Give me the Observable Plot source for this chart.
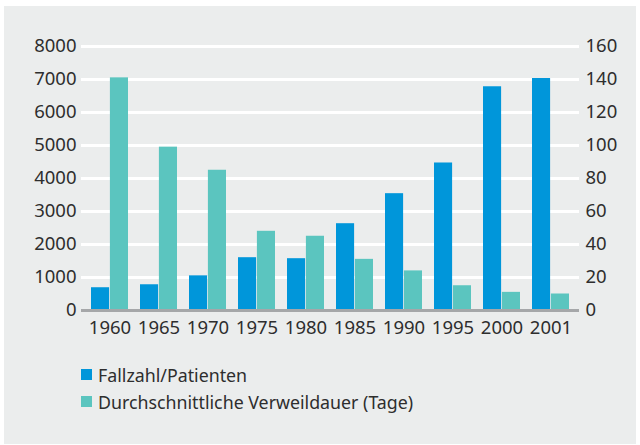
<!DOCTYPE html>
<html>
<head>
<meta charset="utf-8">
<script src="https://cdn.jsdelivr.net/npm/d3@7"></script>
<script src="https://cdn.jsdelivr.net/npm/@observablehq/plot@0.6"></script>
<style>
  html, body { margin: 0; padding: 0; background: #ffffff; }
  #box {
    position: absolute; left: 4px; top: 6px; width: 632px; height: 438px;
    background: #ebeded; font-family: "Noto Sans", sans-serif; color: #2e2e2e;
  }
  #chart svg { display: block; background: transparent; }
  .legend { position: absolute; left: 77px; top: 355px; font-size: 17.8px; }
  .row { display: flex; align-items: center; height: 27px; }
  .sw { width: 11px; height: 11px; margin-right: 6px; }
</style>
</head>
<body>
<div id="box">
  <div id="chart"></div>
  <div class="legend" id="legend"></div>
</div>
<script>
const years = ["1960","1965","1970","1975","1980","1985","1990","1995","2000","2001"];
const patients = [690, 780, 1050, 1600, 1570, 2630, 3540, 4470, 6780, 7030];
const days = [141, 99, 85, 48, 45, 31, 24, 15, 11, 10];
const leftTicks = [0,1000,2000,3000,4000,5000,6000,7000,8000];
const rightTicks = [0,20,40,60,80,100,120,140,160];
const seriesNames = ["Fallzahl/Patienten", "Durchschnittliche Verweildauer (Tage)"];
const colors = ["#0096da", "#5bc5bf"];

const ratio = 8000 / 160;
const data = years.map((y, i) => ({year: y, patients: patients[i], days: days[i]}));
const fs = 18.5;

const chart = Plot.plot({
  width: 632,
  height: 345,
  marginLeft: 77,
  marginRight: 57,
  marginTop: 40,
  marginBottom: 41,
  style: {fontFamily: "Noto Sans, sans-serif", fontSize: fs + "px", color: "#2e2e2e", background: "transparent"},
  x: {type: "band", domain: years, paddingInner: 0.24, paddingOuter: 0.12, label: null},
  y: {domain: [0, 8000], label: null},
  marks: [
    Plot.ruleY(leftTicks.slice(1), {stroke: "#ffffff", strokeWidth: 3}),
    Plot.barY(data, {x: "year", y: "patients", fill: colors[0], insetRight: 18.9}),
    Plot.barY(data, {x: "year", y: d => d.days * ratio, fill: colors[1], insetLeft: 18.9}),
    Plot.ruleY([0], {stroke: "#a5a7a9", strokeWidth: 3}),
    Plot.axisY({ticks: leftTicks, tickFormat: t => String(t), tickSize: 0, tickPadding: 5, fontSize: fs, label: null, anchor: "left"}),
    Plot.axisY({ticks: rightTicks.map(t => t * ratio), tickFormat: t => String(t / ratio), tickSize: 0, tickPadding: 6, fontSize: fs, label: null, anchor: "right"}),
    Plot.axisX({tickSize: 0, tickPadding: 10, fontSize: fs, label: null})
  ]
});
document.getElementById("chart").appendChild(chart);

const legend = document.getElementById("legend");
seriesNames.forEach((name, i) => {
  const row = document.createElement("div");
  row.className = "row";
  const sw = document.createElement("div");
  sw.className = "sw";
  sw.style.background = colors[i];
  const t = document.createElement("span");
  t.textContent = name;
  row.appendChild(sw);
  row.appendChild(t);
  legend.appendChild(row);
});
</script>
</body>
</html>
